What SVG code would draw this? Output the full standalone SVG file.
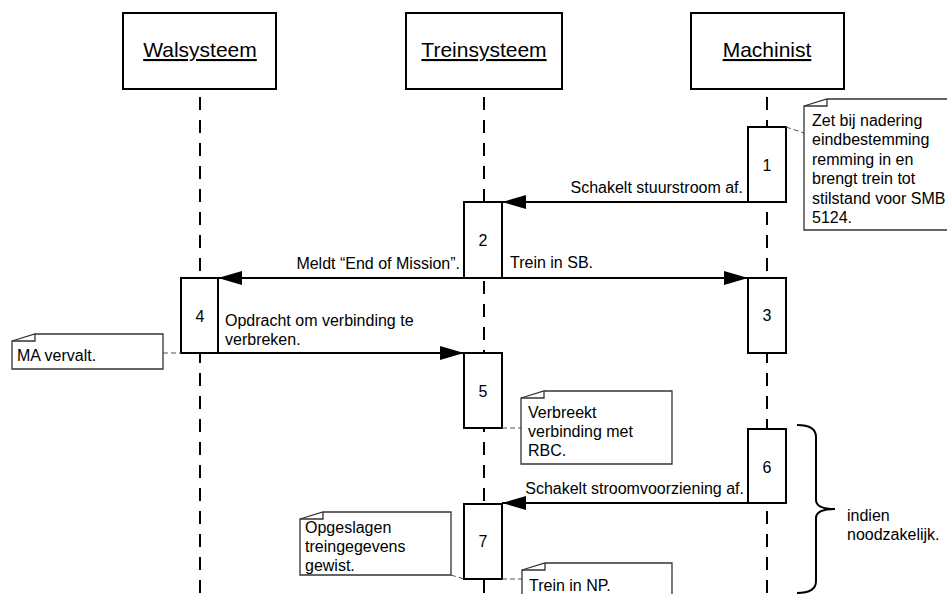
<svg xmlns="http://www.w3.org/2000/svg" width="947" height="594" viewBox="0 0 947 594">
  <style>
    text { font-family: "Liberation Sans", Arial, sans-serif; font-size: 16px; fill: #000; }
    .head { font-size: 21px; text-anchor: middle; text-decoration: underline; }
    .num { text-anchor: middle; }
    .end { text-anchor: end; }
    .box { fill: #fff; stroke: #000; stroke-width: 2; }
    .act { fill: #fff; stroke: #000; stroke-width: 2; }
    .life { stroke: #000; stroke-width: 2; stroke-dasharray: 13 10; fill: none; }
    .msg { stroke: #000; stroke-width: 2; fill: none; marker-end: url(#arrow); }
    .note { fill: #fff; stroke: #333; stroke-width: 1.3; }
    .fold { fill: none; stroke: #333; stroke-width: 1.3; }
    .link { stroke: #555; stroke-width: 1; stroke-dasharray: 5 3; fill: none; }
    .brace { stroke: #000; stroke-width: 2; fill: none; }
  </style>
  <defs>
    <marker id="arrow" markerUnits="userSpaceOnUse" markerWidth="24" markerHeight="14" refX="24" refY="7" orient="auto">
      <path d="M0,0 L24,7 L0,14 Z" fill="#000"/>
    </marker>
  </defs>

  <!-- lifelines -->
  <g id="lifelines">
    <line class="life" x1="200" y1="97" x2="200" y2="600"/>
    <line class="life" x1="484" y1="97" x2="484" y2="600"/>
    <line class="life" x1="767" y1="97" x2="767" y2="600"/>
  </g>

  <!-- participants -->
  <g id="walsysteem">
    <rect class="box" x="123" y="13" width="153" height="76"/>
    <text class="head" x="200" y="57">Walsysteem</text>
  </g>
  <g id="treinsysteem">
    <rect class="box" x="406" y="13" width="156" height="76"/>
    <text class="head" x="484" y="57">Treinsysteem</text>
  </g>
  <g id="machinist">
    <rect class="box" x="691" y="13" width="153" height="76"/>
    <text class="head" x="767" y="57">Machinist</text>
  </g>

  <!-- activation bars -->
  <g id="act1"><rect class="act" x="748" y="127" width="38" height="75"/><text class="num" x="767" y="171">1</text></g>
  <g id="act2"><rect class="act" x="464" y="202" width="38" height="76"/><text class="num" x="483" y="246">2</text></g>
  <g id="act3"><rect class="act" x="748" y="278" width="38" height="75"/><text class="num" x="767" y="321">3</text></g>
  <g id="act4"><rect class="act" x="181" y="278" width="37" height="75"/><text class="num" x="200" y="322">4</text></g>
  <g id="act5"><rect class="act" x="464" y="353" width="38" height="75"/><text class="num" x="483" y="397">5</text></g>
  <g id="act6"><rect class="act" x="748" y="429" width="38" height="74"/><text class="num" x="767" y="473">6</text></g>
  <g id="act7"><rect class="act" x="464" y="504" width="38" height="75"/><text class="num" x="483" y="547">7</text></g>

  <!-- messages -->
  <g id="connectors">
    <line class="msg" x1="748" y1="202" x2="502" y2="202"/>
    <line class="msg" x1="464" y1="278" x2="218" y2="278"/>
    <line class="msg" x1="502" y1="278" x2="748" y2="278"/>
    <line class="msg" x1="218" y1="353" x2="464" y2="353"/>
    <line class="msg" x1="748" y1="503" x2="502" y2="503"/>
    <!-- note anchors -->
    <line class="link" x1="786" y1="127" x2="804" y2="133"/>
    <line class="link" x1="163" y1="353" x2="181" y2="353"/>
    <line class="link" x1="502" y1="428" x2="521" y2="428"/>
    <line class="link" x1="451" y1="575" x2="464" y2="579"/>
    <line class="link" x1="502" y1="579" x2="522" y2="579"/>
  </g>

  <!-- message labels -->
  <g id="labels">
    <text class="end" x="743" y="193">Schakelt stuurstroom af.</text>
    <text class="end" x="460" y="269">Meldt “End of Mission”.</text>
    <text x="510" y="268">Trein in SB.</text>
    <text x="225" y="326">Opdracht om verbinding te</text>
    <text x="225" y="345">verbreken.</text>
    <text class="end" x="744" y="494">Schakelt stroomvoorziening af.</text>
  </g>

  <!-- notes -->
  <g id="note-machinist">
    <path class="note" d="M804,106 L827,99 L950,99 L950,230 L804,230 Z"/>
    <path class="fold" d="M804,106 L827,106 L827,99"/>
    <text x="812" y="126">Zet bij nadering</text>
    <text x="812" y="145">eindbestemming</text>
    <text x="812" y="165">remming in en</text>
    <text x="812" y="184">brengt trein tot</text>
    <text x="812" y="204">stilstand voor SMB</text>
    <text x="812" y="223">5124.</text>
  </g>
  <g id="note-ma">
    <path class="note" d="M12,341 L35,334 L163,334 L163,369 L12,369 Z"/>
    <path class="fold" d="M12,341 L35,341 L35,334"/>
    <text x="17" y="361">MA vervalt.</text>
  </g>
  <g id="note-rbc">
    <path class="note" d="M521,398 L544,391 L672,391 L672,464 L521,464 Z"/>
    <path class="fold" d="M521,398 L544,398 L544,391"/>
    <text x="528" y="418">Verbreekt</text>
    <text x="528" y="437">verbinding met</text>
    <text x="528" y="456">RBC.</text>
  </g>
  <g id="note-gewist">
    <path class="note" d="M300,519 L323,512 L451,512 L451,575 L300,575 Z"/>
    <path class="fold" d="M300,519 L323,519 L323,512"/>
    <text x="305" y="533">Opgeslagen</text>
    <text x="305" y="552">treingegevens</text>
    <text x="305" y="571">gewist.</text>
  </g>
  <g id="note-np">
    <path class="note" d="M522,570 L545,563 L672,563 L672,600 L522,600 Z"/>
    <path class="fold" d="M522,570 L545,570 L545,563"/>
    <text x="529" y="591">Trein in NP.</text>
  </g>

  <!-- condition brace -->
  <g id="brace">
    <path class="brace" d="M797,425 Q816,425 816,437 L816,500 Q816,509 835,509 Q816,509 816,518 L816,581 Q816,593 797,593"/>
    <text x="847" y="521">indien</text>
    <text x="847" y="540">noodzakelijk.</text>
  </g>
</svg>
